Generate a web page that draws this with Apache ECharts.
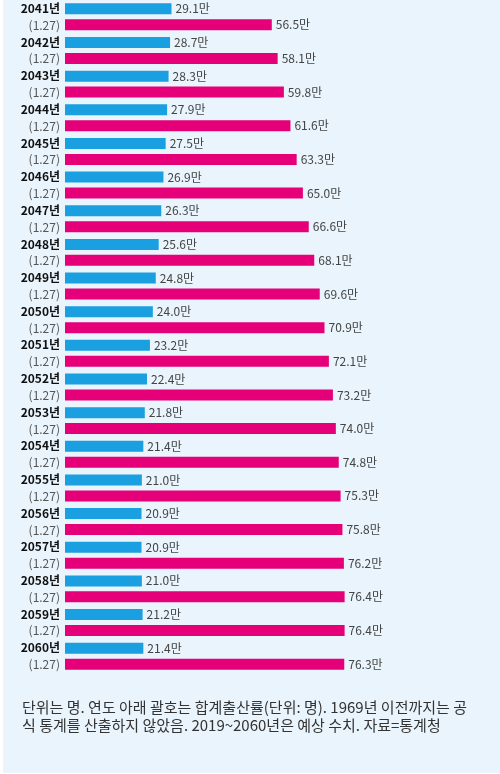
<!DOCTYPE html>
<html>
<head>
<meta charset="utf-8">
<script src="https://cdn.jsdelivr.net/npm/echarts@6/dist/echarts.min.js"></script>
<style>
  html, body { margin: 0; padding: 0; background: #ffffff; }
  #chart { width: 500px; height: 774px; }
</style>
</head>
<body>
<div id="chart"></div>
<script>
// 연도별 출생아/사망자 수 (단위: 만 명)
const years = ['2041', '2042', '2043', '2044', '2045', '2046', '2047', '2048', '2049', '2050',
  '2051', '2052', '2053', '2054', '2055', '2056', '2057', '2058', '2059', '2060'];
const fertility = ['1.27', '1.27', '1.27', '1.27', '1.27', '1.27', '1.27', '1.27', '1.27', '1.27',
  '1.27', '1.27', '1.27', '1.27', '1.27', '1.27', '1.27', '1.27', '1.27', '1.27'];
const births = [29.1, 28.7, 28.3, 27.9, 27.5, 26.9, 26.3, 25.6, 24.8, 24.0,
  23.2, 22.4, 21.8, 21.4, 21.0, 20.9, 20.9, 21.0, 21.2, 21.4];
const deaths = [56.5, 58.1, 59.8, 61.6, 63.3, 65.0, 66.6, 68.1, 69.6, 70.9,
  72.1, 73.2, 74.0, 74.8, 75.3, 75.8, 76.2, 76.4, 76.4, 76.3];
const note = '단위는 명. 연도 아래 괄호는 합계출산률(단위: 명). 1969년 이전까지는 공\n식 통계를 산출하지 않았음. 2019~2060년은 예상 수치. 자료=통계청';

const font = '"Noto Sans CJK KR", "Noto Sans", sans-serif';
const chart = echarts.init(document.getElementById('chart'));

const valueLabel = {
  show: true,
  position: 'right',
  distance: 4,
  color: '#444',
  fontSize: 12,
  fontFamily: font,
  formatter: p => p.value.toFixed(1) + '만'
};

chart.setOption({
  backgroundColor: 'transparent',
  animation: false,
  graphic: [
    {
      type: 'rect', z: -10,
      shape: { x: 3, y: 0, width: 497, height: 773 },
      style: { fill: '#e9f4fc' }
    },
    {
      type: 'text', left: 22, top: 698,
      style: {
        text: note,
        font: '15px ' + font,
        fill: '#333',
        lineHeight: 18
      }
    }
  ],
  grid: { left: 65, top: 0, height: 673, width: 366 },
  xAxis: {
    type: 'value', min: 0, max: 100,
    show: false
  },
  yAxis: {
    type: 'category',
    data: years,
    inverse: true,
    axisLine: { show: false },
    axisTick: { show: false },
    axisLabel: {
      margin: 5,
      fontFamily: font,
      formatter: (v, i) => '{y|' + v + '년}\n{r|(' + fertility[i] + ')}',
      rich: {
        y: { fontSize: 12, fontWeight: 'bold', color: '#111', lineHeight: 16.8, align: 'right', fontFamily: font },
        r: { fontSize: 12, color: '#555', lineHeight: 16.8, align: 'right', fontFamily: font }
      }
    }
  },
  series: [
    {
      name: '출생아',
      type: 'bar',
      data: births,
      barWidth: 11,
      barGap: '45%',
      itemStyle: { color: '#1a9fe0' },
      label: valueLabel
    },
    {
      name: '사망자',
      type: 'bar',
      data: deaths,
      barWidth: 11,
      itemStyle: { color: '#e5007a' },
      label: valueLabel
    }
  ]
});
</script>
</body>
</html>
